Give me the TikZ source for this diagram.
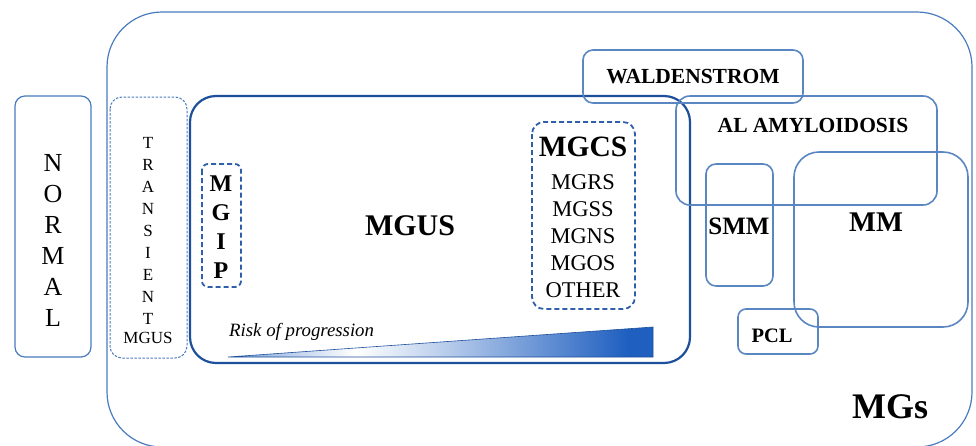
\documentclass[tikz,border=0pt]{standalone}
\usepackage{fontspec}
\setmainfont{Liberation Serif}
\usetikzlibrary{shadings}
\definecolor{outerc}{HTML}{4A7BBF}
\definecolor{boxc}{HTML}{5A86C2}
\definecolor{mgusc}{HTML}{1D4F9A}
\definecolor{dashc}{HTML}{2E5FA8}
\definecolor{gradc}{HTML}{1F5FC0}
\pgfdeclarehorizontalshading{riskshade}{100bp}{color(0bp)=(gradc!60); color(25bp)=(gradc!60); color(40bp)=(white); color(50bp)=(gradc!30!white); color(72bp)=(gradc); color(100bp)=(gradc)}
\tikzset{
  outerbox/.style={draw=outerc, line width=1.2pt, rounded corners=55pt},
  plainbox/.style={draw=boxc, line width=1.6pt, rounded corners=10pt},
  mgusbox/.style={draw=mgusc, line width=2.2pt, rounded corners=26pt},
  dbox/.style={draw=dashc, line width=1.8pt, dash pattern=on 5pt off 3pt, rounded corners=9pt},
  tbox/.style={draw=outerc, line width=1pt, dash pattern=on 2.5pt off 1.5pt, rounded corners=12pt},
  lbl/.style={inner sep=0pt, align=center, text=black}
}
\begin{document}
\begin{tikzpicture}[x=1pt,y=-1pt]
\useasboundingbox (0,0) rectangle (976,445);
% outer MGs box
\draw[outerbox] (107,12) rectangle (972,447);
% normal
\draw[plainbox, draw=outerc, line width=1.2pt] (15,96) rectangle (91,357);
\node[lbl, font=\fontsize{26}{31}\selectfont] (normal) at (53,240) {N\\O\\R\\M\\A\\L};
% transient
\draw[tbox] (110,97) rectangle (187,358);
\node[lbl, font=\fontsize{17}{21.9}\selectfont] (trans) at (148,231) {T\\R\\A\\N\\S\\I\\E\\N\\T};
\node[lbl, font=\fontsize{17}{18}\selectfont] (tmgus) at (148,338) {MGUS};
% MGUS box
\draw[mgusbox] (190,96) rectangle (690,363);
\node[lbl, font=\fontsize{30}{32}\bfseries] (mgus) at (410,226) {MGUS};
% MGIP
\draw[dbox, rounded corners=6pt] (202,164) rectangle (241,287);
\node[lbl, font=\fontsize{24}{29}\bfseries] (mgip) at (221,227) {M\\G\\I\\P};
% MGCS
\draw[dbox, rounded corners=12pt] (532,122) rectangle (635,309);
\node[lbl, font=\fontsize{29.5}{30}\bfseries] (mgcs) at (583,147) {MGCS};
\node[lbl, font=\fontsize{22.5}{27.2}\selectfont, anchor=north] (mgcslist) at (583,174) {MGRS\\MGSS\\MGNS\\MGOS\\OTHER};
% gradient
\shade[shading=riskshade, draw=mgusc, line width=0.6pt] (228,357) -- (653,327) -- (653,357) -- cycle;
\node[lbl, font=\fontsize{18.8}{20}\itshape, anchor=west] (risk) at (229,332) {Risk of progression};
% Waldenstrom
\draw[plainbox] (583,50) rectangle (803,103);
\node[lbl, font=\fontsize{21.5}{22}\bfseries] (wald) at (693,77) {WALDENSTROM};
% AL amyloidosis
\draw[plainbox, rounded corners=14pt] (676,96) rectangle (937,205);
\node[lbl, font=\fontsize{21.5}{22}\bfseries] (al) at (813,125) {AL AMYLOIDOSIS};
% SMM
\draw[plainbox] (706,164) rectangle (773,286);
\node[lbl, font=\fontsize{25}{26}\bfseries] (smm) at (739,226) {SMM};
% MM
\draw[plainbox, rounded corners=25pt] (794,152) rectangle (968,327);
\node[lbl, font=\fontsize{28.5}{30}\bfseries] (mm) at (876,222) {MM};
% PCL
\draw[plainbox, rounded corners=8pt] (738,309) rectangle (818,354);
\node[lbl, font=\fontsize{20.5}{22}\bfseries] (pcl) at (772,336) {PCL};
% MGs
\node[lbl, font=\fontsize{36}{38}\bfseries] (mgs) at (890,407) {MGs};
\end{tikzpicture}
\end{document}
